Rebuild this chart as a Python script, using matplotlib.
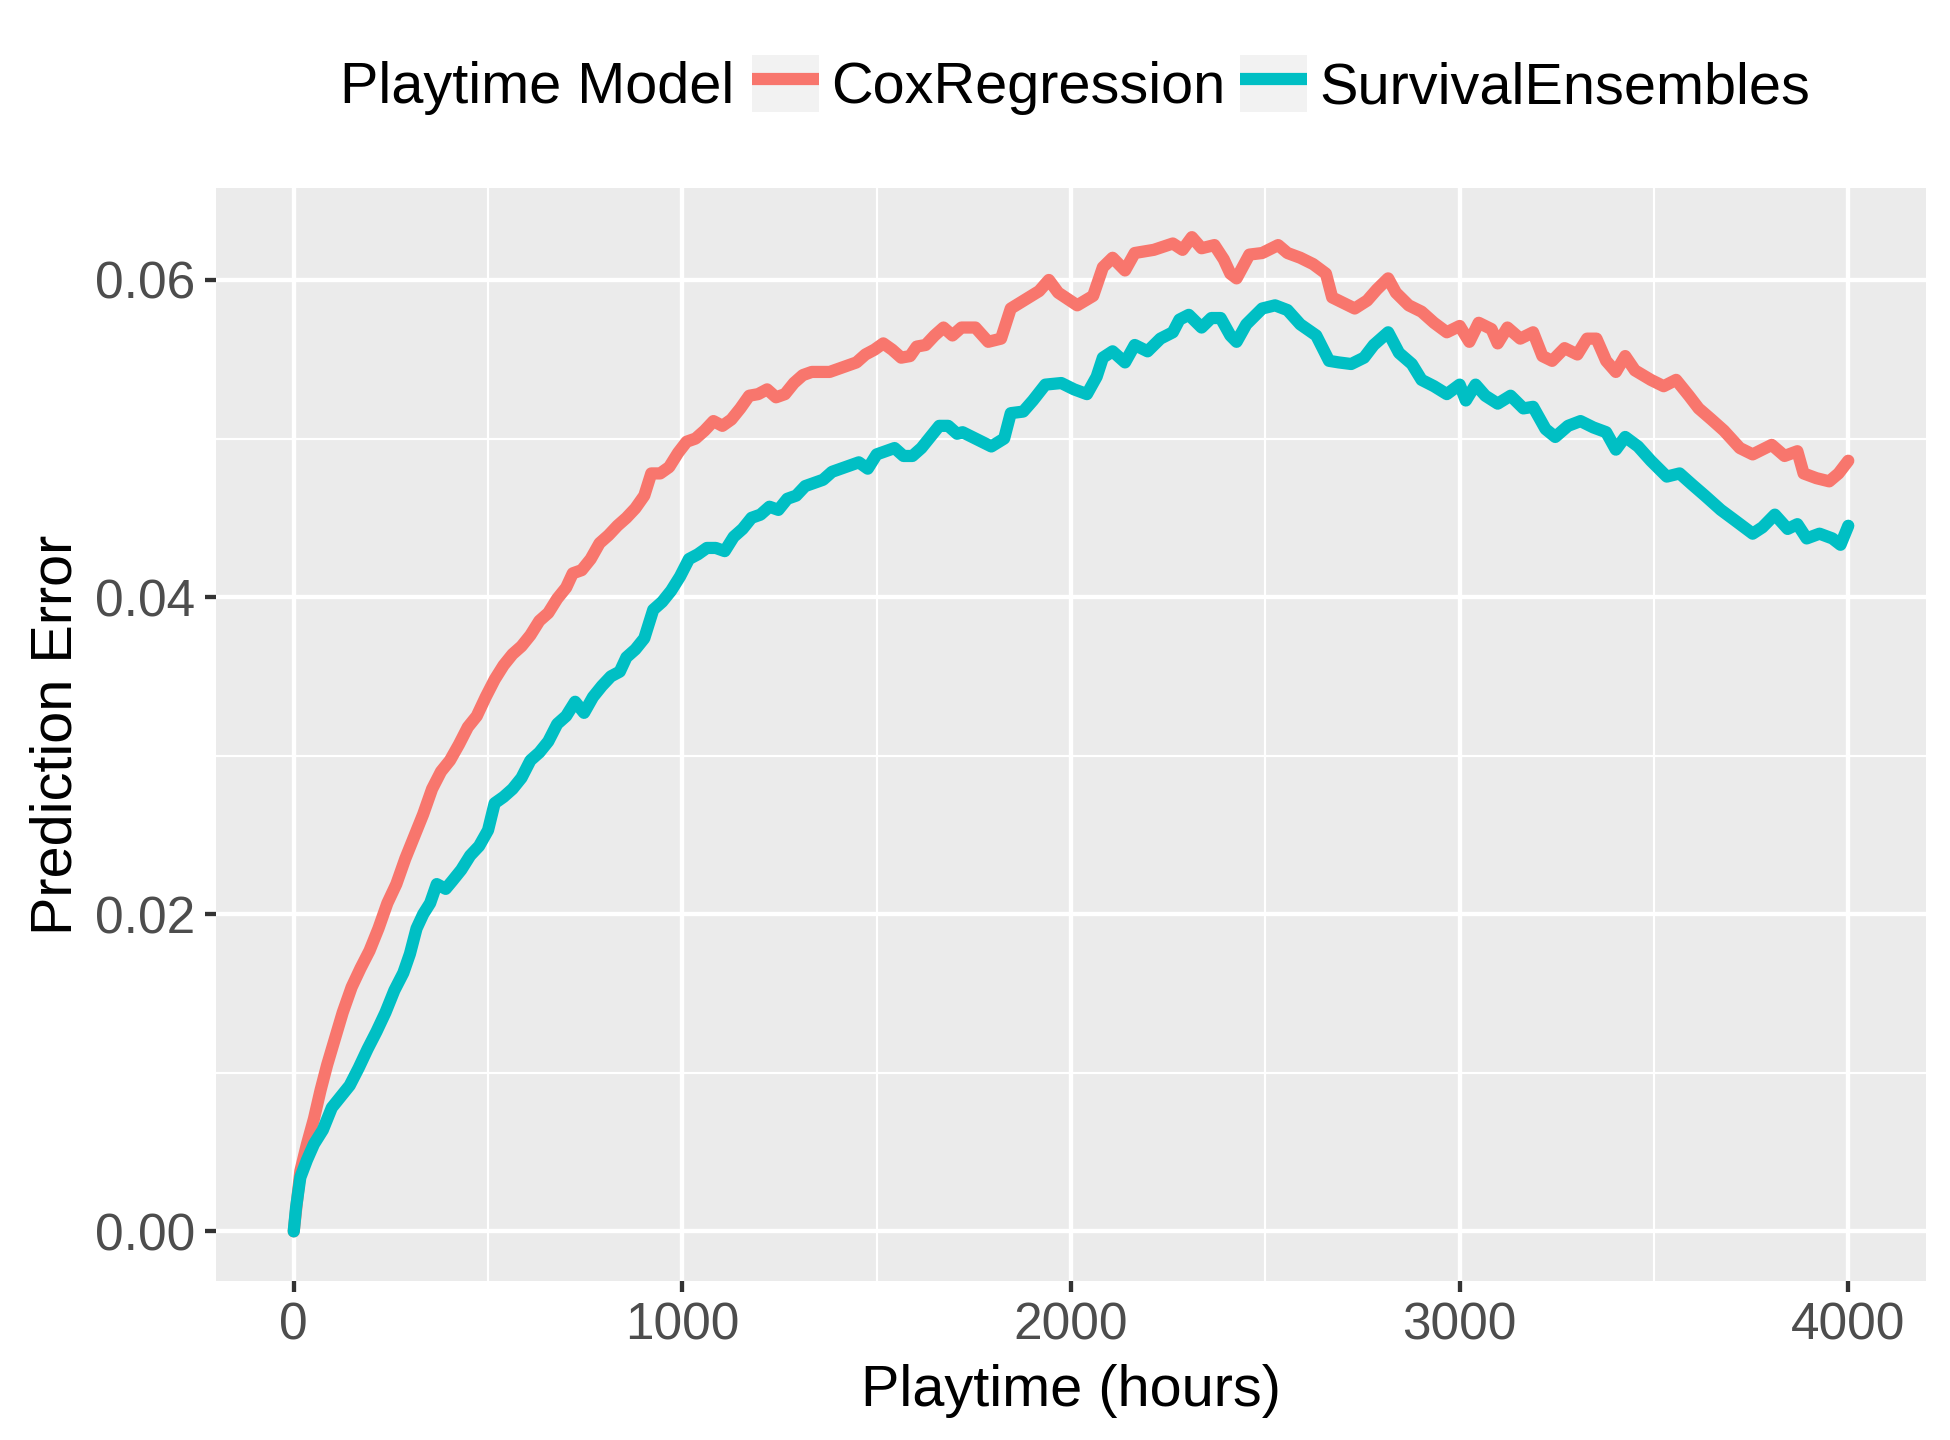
import matplotlib
matplotlib.use("Agg")
import matplotlib.pyplot as plt
from matplotlib.patches import Rectangle
from matplotlib.lines import Line2D
from matplotlib.legend_handler import HandlerTuple

plt.rcParams['font.family'] = ['Liberation Sans', 'DejaVu Sans']

series_names = ["CoxRegression", "SurvivalEnsembles"]
series_colors = ["#F8766D", "#00BFC4"]

cox_x = [0, 17, 34, 52, 69, 86, 103, 126, 149, 172,
         195, 218, 241, 264, 287, 310, 333, 356, 379, 402,
         425, 448, 471, 494, 517, 540, 563, 586, 609, 632,
         655, 678, 701, 718, 741, 764, 787, 810, 833, 856,
         879, 902, 920, 943, 966, 989, 1011, 1034, 1057, 1080,
         1103, 1126, 1149, 1172, 1195, 1218, 1241, 1264, 1287, 1310,
         1333, 1356, 1379, 1402, 1425, 1448, 1471, 1494, 1517, 1540,
         1563, 1586, 1603, 1626, 1649, 1672, 1695, 1718,
         1754, 1787, 1820, 1845, 1885, 1918, 1943, 1967, 2016, 2057,
         2082, 2107, 2139, 2164, 2213, 2262, 2287, 2311, 2336, 2369,
         2393, 2410, 2426, 2459, 2492, 2533, 2557, 2590, 2623, 2656,
         2672, 2697, 2730, 2762, 2787, 2816, 2836, 2869, 2902, 2934,
         2967, 3000, 3025, 3049, 3082, 3098, 3123, 3156, 3189, 3213,
         3238, 3270, 3303, 3328, 3352, 3377, 3402, 3426, 3451, 3492,
         3525, 3557, 3590, 3615, 3648, 3680, 3721, 3754, 3803, 3836,
         3869, 3885, 3918, 3951, 3975, 4000]
cox_y = [0, 0.0038, 0.0055, 0.0071, 0.0089, 0.0105, 0.0119, 0.0138, 0.0154, 0.0166,
         0.0177, 0.0191, 0.0207, 0.0219, 0.0235, 0.0249, 0.0263, 0.0279, 0.029, 0.0297,
         0.0307, 0.0318, 0.0325, 0.0337, 0.0348, 0.0357, 0.0364, 0.0369, 0.0376, 0.0385,
         0.039, 0.0399, 0.0406, 0.0415, 0.0417, 0.0424, 0.0434, 0.0439, 0.0445, 0.045,
         0.0456, 0.0464, 0.0478, 0.0478, 0.0482, 0.0491, 0.0498, 0.05, 0.0505, 0.0511,
         0.0508, 0.0512, 0.0519, 0.0527, 0.0528, 0.0531, 0.0526, 0.0528, 0.0535, 0.054,
         0.0542, 0.0542, 0.0542, 0.0544, 0.0546, 0.0548, 0.0553, 0.0556, 0.056, 0.0556,
         0.0551, 0.0552, 0.0558, 0.0559, 0.0565, 0.057, 0.0565, 0.057,
         0.057, 0.0561, 0.0563, 0.0582, 0.0588, 0.0593, 0.06, 0.0592, 0.0584, 0.059,
         0.0608, 0.0614, 0.0606, 0.0617, 0.0619, 0.0623, 0.0619, 0.0627, 0.062, 0.0622,
         0.0613, 0.0604, 0.0601, 0.0616, 0.0617, 0.0622, 0.0617, 0.0614, 0.061, 0.0604,
         0.0589, 0.0586, 0.0582, 0.0587, 0.0594, 0.0601, 0.0592, 0.0584, 0.058, 0.0573,
         0.0567, 0.0571, 0.0561, 0.0573, 0.0569, 0.056, 0.057, 0.0563, 0.0567, 0.0552,
         0.0549, 0.0557, 0.0553, 0.0563, 0.0563, 0.0549, 0.0542, 0.0552, 0.0543, 0.0537,
         0.0533, 0.0537, 0.0527, 0.0519, 0.0512, 0.0505, 0.0494, 0.049, 0.0496, 0.0489,
         0.0492, 0.0478, 0.0475, 0.0473, 0.0478, 0.0486]

ens_x = [0, 6, 17, 34, 52, 75, 98, 121, 144, 167,
         190, 213, 236, 259, 282, 299, 316, 333, 351, 368,
         391, 408, 431, 454, 477, 500, 517, 540, 563, 586,
         609, 632, 655, 678, 701, 724, 747, 770, 793, 816,
         839, 856, 879, 902, 925, 948, 971, 994, 1017, 1040,
         1063, 1086, 1109, 1132, 1155, 1178, 1201, 1224, 1247, 1270,
         1293, 1316, 1339, 1362, 1385, 1408, 1431, 1454, 1477, 1500,
         1523, 1546, 1569, 1592, 1615, 1638, 1661, 1684, 1707,
         1721, 1762, 1795, 1828, 1845, 1877, 1902, 1934, 1975, 2008,
         2041, 2066, 2082, 2107, 2139, 2164, 2197, 2230, 2262, 2279,
         2303, 2336, 2361, 2385, 2410, 2426, 2451, 2492, 2525, 2557,
         2590, 2631, 2664, 2689, 2721, 2754, 2779, 2816, 2844, 2877,
         2902, 2934, 2967, 3000, 3016, 3041, 3066, 3098, 3131, 3164,
         3189, 3221, 3246, 3279, 3311, 3344, 3377, 3402, 3426, 3459,
         3492, 3533, 3566, 3598, 3631, 3672, 3705, 3754, 3779, 3811,
         3844, 3869, 3893, 3926, 3959, 3980, 4000]
ens_y = [0, 0.0015, 0.0034, 0.0045, 0.0055, 0.0064, 0.0078, 0.0085, 0.0092, 0.0103,
         0.0115, 0.0126, 0.0138, 0.0152, 0.0163, 0.0175, 0.0191, 0.02, 0.0207, 0.0219,
         0.0216, 0.0221, 0.0228, 0.0237, 0.0243, 0.0253, 0.027, 0.0274, 0.0279, 0.0286,
         0.0297, 0.0302, 0.0309, 0.032, 0.0325, 0.0334, 0.0327, 0.0337, 0.0344, 0.035,
         0.0353, 0.0362, 0.0367, 0.0374, 0.0392, 0.0397, 0.0404, 0.0413, 0.0424, 0.0427,
         0.0431, 0.0431, 0.0429, 0.0438, 0.0443, 0.045, 0.0452, 0.0457, 0.0455, 0.0462,
         0.0464, 0.047, 0.0472, 0.0474, 0.0479, 0.0481, 0.0483, 0.0485, 0.0481, 0.049,
         0.0492, 0.0494, 0.0489, 0.0489, 0.0494, 0.0501, 0.0508, 0.0508, 0.0503,
         0.0504, 0.0499, 0.0495, 0.05, 0.0516, 0.0517, 0.0524, 0.0534, 0.0535, 0.0531,
         0.0528, 0.0539, 0.0551, 0.0555, 0.0548, 0.0559, 0.0555, 0.0563, 0.0567, 0.0575,
         0.0578, 0.057, 0.0576, 0.0576, 0.0565, 0.0561, 0.0572, 0.0582, 0.0584, 0.0581,
         0.0572, 0.0565, 0.0549, 0.0548, 0.0547, 0.0551, 0.0559, 0.0567, 0.0554, 0.0547,
         0.0537, 0.0533, 0.0528, 0.0534, 0.0524, 0.0534, 0.0527, 0.0522, 0.0527, 0.0519,
         0.052, 0.0506, 0.0501, 0.0508, 0.0511, 0.0507, 0.0504, 0.0493, 0.0501, 0.0495,
         0.0486, 0.0476, 0.0478, 0.0471, 0.0464, 0.0455, 0.0449, 0.044, 0.0444, 0.0452,
         0.0443, 0.0446, 0.0437, 0.044, 0.0437, 0.0433, 0.0445]

x_ticks = [0, 1000, 2000, 3000, 4000]
x_tick_labels = ["0", "1000", "2000", "3000", "4000"]
x_minor = [500, 1500, 2500, 3500]
y_ticks = [0.00, 0.02, 0.04, 0.06]
y_tick_labels = ["0.00", "0.02", "0.04", "0.06"]
y_minor = [0.01, 0.03, 0.05]

W, H = 1950, 1440
TITLE_FS = 41.5
fig = plt.figure(figsize=(W / 100, H / 100), dpi=100)
ax = fig.add_axes([216 / W, 1 - 1281 / H, 1710 / W, 1093 / H])
ax.set_facecolor("#EBEBEB")
for s in ax.spines.values():
    s.set_visible(False)

for xs, ys, c in [(cox_x, cox_y, series_colors[0]), (ens_x, ens_y, series_colors[1])]:
    ax.plot(xs, ys, color=c, lw=8.8, solid_capstyle='round', solid_joinstyle='round', zorder=3)

ax.set_xlim(-200, 4200)
ax.set_ylim(-0.00313, 0.0658)
ax.set_xticks(x_ticks)
ax.set_xticklabels(x_tick_labels)
ax.set_xticks(x_minor, minor=True)
ax.set_yticks(y_ticks)
ax.set_yticklabels(y_tick_labels)
ax.set_yticks(y_minor, minor=True)
ax.set_axisbelow(True)
ax.grid(which='major', color='white', lw=3.1)
ax.grid(which='minor', color='white', lw=1.55)
ax.tick_params(which='major', length=8, width=3.1, color='#333333',
               labelsize=37, labelcolor='#4D4D4D', pad=7)
ax.tick_params(which='minor', length=0)

ax.set_xlabel("Playtime (hours)", fontsize=TITLE_FS, color='black')
ax.set_ylabel("Prediction Error", fontsize=TITLE_FS, color='black')
ax.xaxis.set_label_coords(0.5, -0.0757)
ax.yaxis.set_label_coords(-0.0772, 0.5)

fig.text(340 / W, 1 - 103 / H, "Playtime Model", fontsize=TITLE_FS, ha='left', va='baseline')
handles = [(Rectangle((0, 0), 1, 1, facecolor='#F2F2F2', edgecolor='none'),
            Line2D([], [], color=c, lw=8.8, solid_capstyle='butt')) for c in series_colors]
fig.legend(handles, series_names, handler_map={tuple: HandlerTuple(ndivide=1, pad=0)},
           loc='center left', bbox_to_anchor=(752 / W, 1 - 85 / H), ncol=2,
           frameon=False, fontsize=TITLE_FS, handlelength=1.16, handleheight=1.16,
           handletextpad=0.22, columnspacing=0.25, borderpad=0, borderaxespad=0)

fig.savefig("out.png", dpi=100, facecolor='white')
